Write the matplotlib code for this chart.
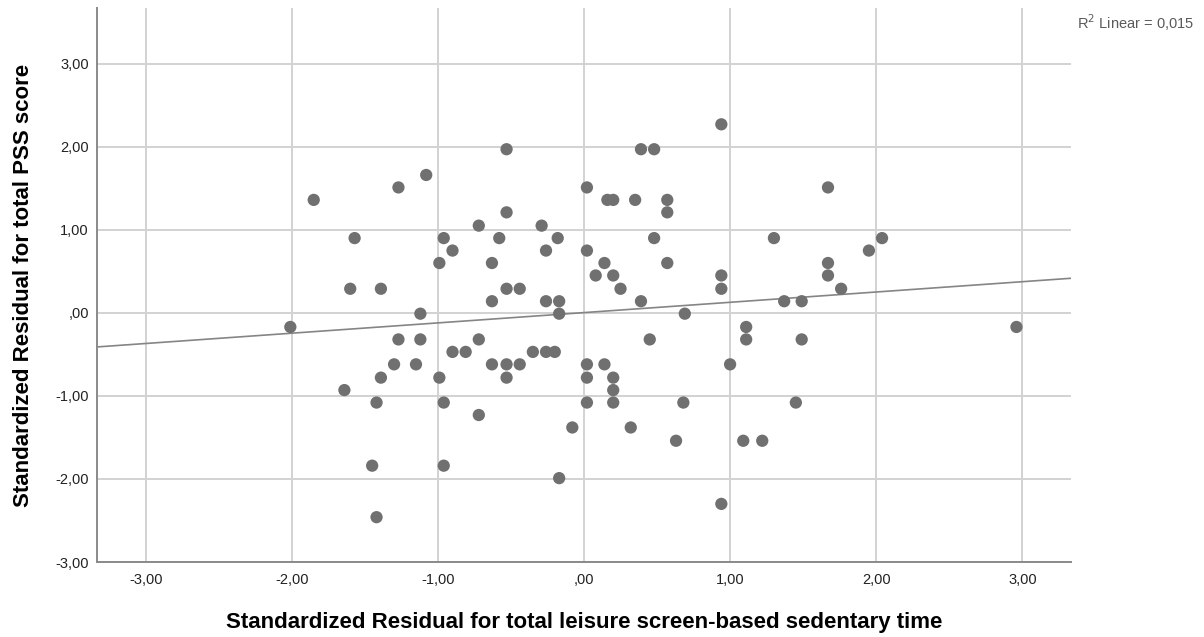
import numpy as np
import matplotlib
matplotlib.use("Agg")
import matplotlib.pyplot as plt
from matplotlib.ticker import FuncFormatter

plt.rcParams['font.family'] = ['Liberation Sans', 'DejaVu Sans']

# Standardized residuals (x: leisure screen-based sedentary time, y: total PSS score)
resid_screen = [
    0.94,
    -0.53, 0.39, 0.48,
    -1.08,
    -1.27, 0.02, 1.67,
    -1.85, 0.16, 0.20, 0.35, 0.57,
    -0.53, 0.57,
    -0.72, -0.29,
    -1.57, -0.96, -0.58, -0.18, 0.48, 1.30, 2.04,
    -0.90, -0.26, 0.02, 1.95,
    -0.99, -0.63, 0.14, 0.57, 1.67,
    0.08, 0.20, 0.94, 1.67,
    -1.60, -1.39, -0.53, -0.44, 0.25, 0.94, 1.76,
    -0.63, -0.26, -0.17, 0.39, 1.37, 1.49,
    -1.12, -0.17, 0.69,
    -2.01, 1.11, 2.96,
    -1.27, -1.12, -0.72, 0.45, 1.11, 1.49,
    -0.90, -0.81, -0.35, -0.26, -0.20,
    -1.30, -1.15, -0.63, -0.53, -0.44, 0.02, 0.14, 1.00,
    -1.39, -0.99, -0.53, 0.02, 0.20,
    -1.64, 0.20,
    -1.42, -0.96, 0.02, 0.20, 0.68, 1.45,
    -0.72,
    -0.08, 0.32,
    0.63, 1.09, 1.22,
    -1.45, -0.96,
    -0.17,
    0.94,
    -1.42,
]
resid_pss = [
    2.27,
    1.97, 1.97, 1.97,
    1.66,
    1.51, 1.51, 1.51,
    1.36, 1.36, 1.36, 1.36, 1.36,
    1.21, 1.21,
    1.05, 1.05,
    0.90, 0.90, 0.90, 0.90, 0.90, 0.90, 0.90,
    0.75, 0.75, 0.75, 0.75,
    0.60, 0.60, 0.60, 0.60, 0.60,
    0.45, 0.45, 0.45, 0.45,
    0.29, 0.29, 0.29, 0.29, 0.29, 0.29, 0.29,
    0.14, 0.14, 0.14, 0.14, 0.14, 0.14,
    -0.01, -0.01, -0.01,
    -0.17, -0.17, -0.17,
    -0.32, -0.32, -0.32, -0.32, -0.32, -0.32,
    -0.47, -0.47, -0.47, -0.47, -0.47,
    -0.62, -0.62, -0.62, -0.62, -0.62, -0.62, -0.62, -0.62,
    -0.78, -0.78, -0.78, -0.78, -0.78,
    -0.93, -0.93,
    -1.08, -1.08, -1.08, -1.08, -1.08, -1.08,
    -1.23,
    -1.38, -1.38,
    -1.54, -1.54, -1.54,
    -1.84, -1.84,
    -1.99,
    -2.30,
    -2.46,
]
# Linear fit line
fit_slope = 0.124
fit_intercept = 0.003
r2_label = "0,015"
x_ticks = [-3, -2, -1, 0, 1, 2, 3]
y_ticks = [-3, -2, -1, 0, 1, 2, 3]

x = np.array(resid_screen)
y = np.array(resid_pss)

fig = plt.figure(figsize=(12.04, 6.37), dpi=100)
ax = fig.add_axes([0.0806, 0.1177, 0.8089, 0.8697])

grid_col = "#d2d2d2"
for t in x_ticks:
    ax.axvline(t, color=grid_col, lw=1.4, zorder=0)
for t in y_ticks:
    ax.axhline(t, color=grid_col, lw=1.4, zorder=0)

ax.scatter(x, y, s=78, color="#707070", edgecolors="none", zorder=3)

xl = np.array([-3.34, 3.34])
ax.plot(xl, fit_intercept + fit_slope * xl, color="#858585", lw=1.2, zorder=2)

ax.set_xlim(-3.333, 3.333)
ax.set_ylim(-3.0, 3.67)
ax.set_xticks(x_ticks)
ax.set_yticks(y_ticks)

def spss_fmt(v, pos):
    s = f"{v:.2f}".replace(".", ",")
    if s.startswith("0,"):
        s = s[1:]
    elif s.startswith("-0,"):
        s = "-" + s[2:]
    return s

ax.xaxis.set_major_formatter(FuncFormatter(spss_fmt))
ax.yaxis.set_major_formatter(FuncFormatter(spss_fmt))
ax.tick_params(axis="both", length=0, labelsize=10.5, colors="#222222")
ax.tick_params(axis="x", pad=8)
ax.tick_params(axis="y", pad=6)

for side in ("top", "right"):
    ax.spines[side].set_visible(False)
for side in ("left", "bottom"):
    ax.spines[side].set_color("#8a8a8a")
    ax.spines[side].set_linewidth(1.4)

ax.set_xlabel("Standardized Residual for total leisure screen-based sedentary time",
              fontsize=16, fontweight="bold", labelpad=18)
ax.set_ylabel("Standardized Residual for total PSS score",
              fontsize=16, fontweight="bold", labelpad=15)

fig.text(0.992, 0.964, f"R$^2$ Linear = {r2_label}", ha="right", va="center",
         fontsize=10.5, color="#5a5a5a")

fig.savefig("out.png", dpi=100)
